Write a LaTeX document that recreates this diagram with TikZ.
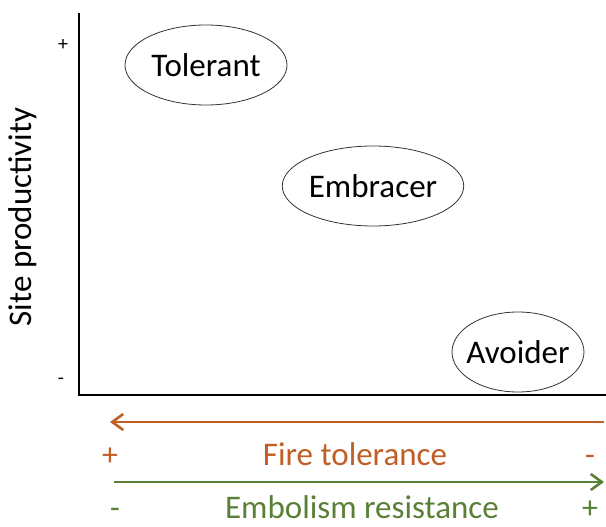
\documentclass[tikz,border=0pt]{standalone}
\usepackage{fontspec}
\setmainfont{Carlito}
\usetikzlibrary{shapes.geometric,arrows.meta}
\definecolor{fireorange}{RGB}{192,94,38}
\definecolor{embgreen}{RGB}{90,128,55}
\tikzset{
  strategy/.style={draw=black!80,line width=0.8pt,ellipse,inner sep=0pt,minimum height=80pt,font=\fontsize{33}{39}\selectfont},
  axislabel/.style={font=\fontsize{33}{39}\selectfont},
  signlabel/.style={anchor=base,inner sep=0pt,font=\fontsize{32}{38}\selectfont},
  ticklabel/.style={font=\fontsize{20}{24}\selectfont},
  gradient/.style={line width=2.6pt,-{Straight Barb[length=11pt,width=16pt]}}
}
\begin{document}
\begin{tikzpicture}[x=1pt,y=-1pt]
\useasboundingbox (0,0) rectangle (606,527);
% Axes
\coordinate (ytop) at (79,13);
\coordinate (origin) at (79,395);
\coordinate (xend) at (606,395);
\draw[line width=2.8pt] (ytop) -- (origin) -- (xend);
\node[ticklabel] (yplus) at (63,45) {+};
\node[ticklabel] (yminus) at (61,381) {-};
\node[axislabel,rotate=90] (ylab) at (23,217) {Site productivity};

% Strategies
\node[strategy,minimum width=162pt] (tolerant) at (206,65) {Tolerant};
\node[strategy] (embracer) at (373,186) {Embracer};
\node[strategy,inner xsep=-5pt] (avoider) at (518,352) {Avoider};

% Fire tolerance (increases to the left)
\coordinate (fireR) at (604,422);
\coordinate (fireL) at (110,422);
\draw[gradient,draw=fireorange] (fireR) -- (fireL);
\node[signlabel,text=fireorange] (fplus) at (110,465) {+};
\node[axislabel,anchor=base,inner sep=0pt,text=fireorange] (fire) at (355,465) {Fire tolerance};
\node[signlabel,text=fireorange] (fminus) at (590,465) {-};

% Embolism resistance (increases to the right)
\coordinate (embL) at (114,482);
\coordinate (embR) at (604,482);
\draw[gradient,draw=embgreen] (embL) -- (embR);
\node[signlabel,text=embgreen] (eminus) at (115,518) {-};
\node[axislabel,anchor=base,inner sep=0pt,text=embgreen] (emb) at (362,518) {Embolism resistance};
\node[signlabel,text=embgreen] (eplus) at (590,518) {+};
\end{tikzpicture}
\end{document}
